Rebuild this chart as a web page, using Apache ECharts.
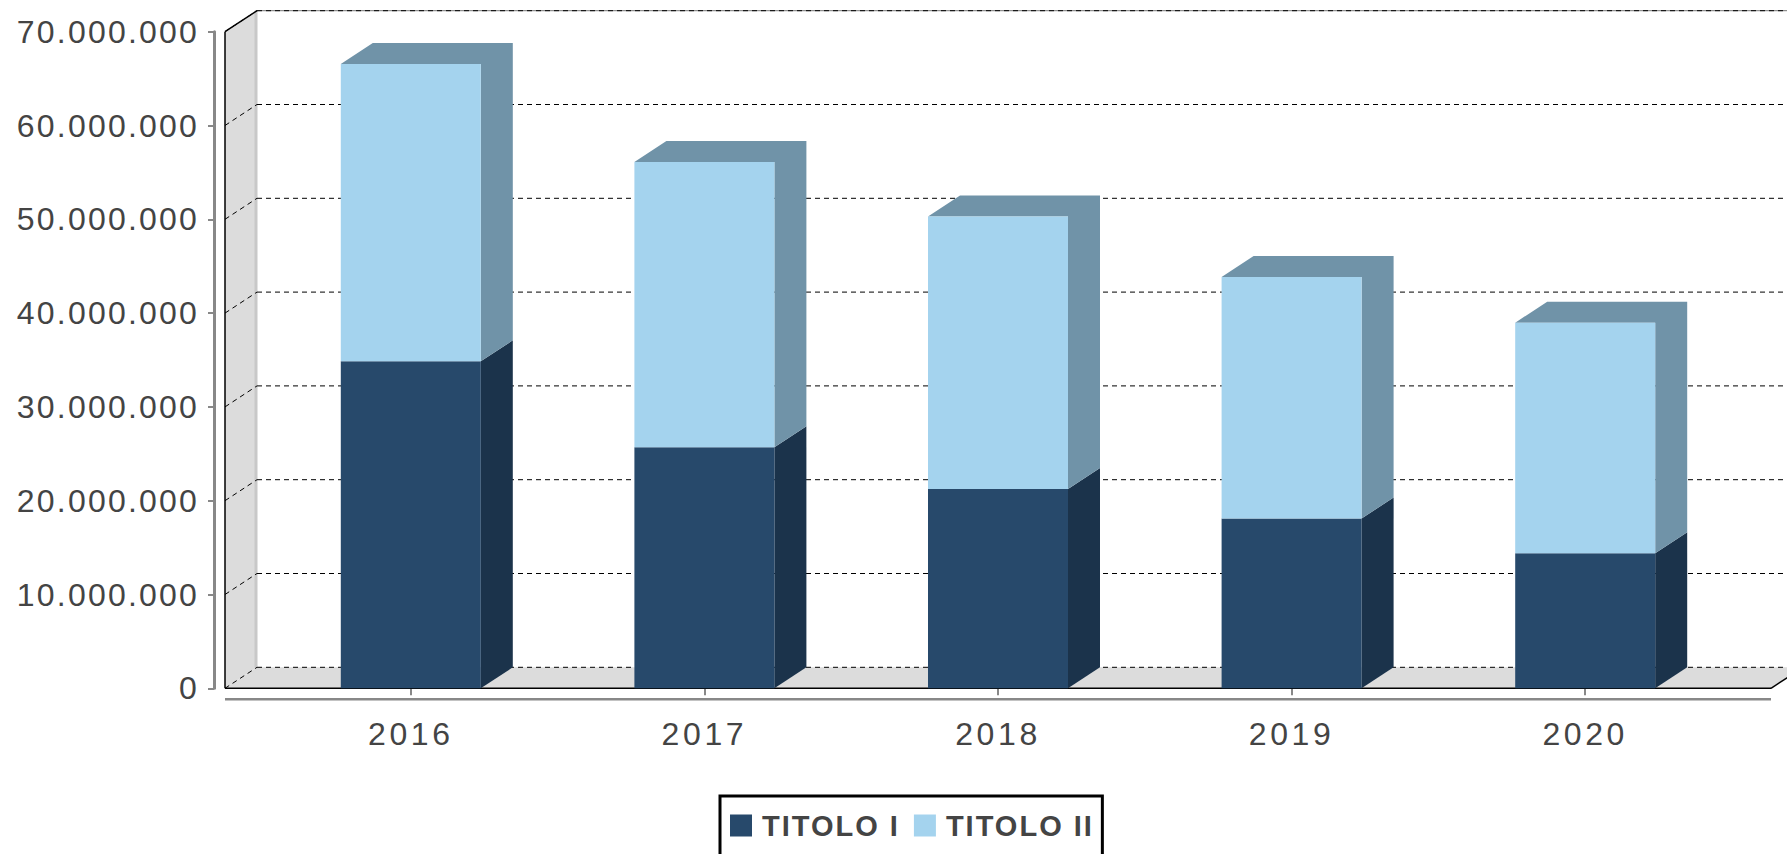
<!DOCTYPE html>
<html><head><meta charset="utf-8">
<style>html,body{margin:0;padding:0;background:#fff;overflow:hidden}#c{width:1787px;height:854px}</style>
<script src="https://cdn.jsdelivr.net/npm/echarts@6/dist/echarts.min.js"></script>
</head><body><div id="c"></div>
<script>
const categories = ['2016','2017','2018','2019','2020'];
const titoloI  = [34860000,25700000,21260000,18100000,14400000];
const titoloII = [31700000,30400000,29050000,25750000,24580000];
const yTicks = [0,10000000,20000000,30000000,40000000,50000000,60000000,70000000];
const DX = 32, DY = 21;
const dots = v => String(v).replace(/\B(?=(\d{3})+$)/g,'.');
const chart = echarts.init(document.getElementById('c'), null, {renderer:'svg'});

function decor(params, api){
  const cs = params.coordSys;
  const fl = cs.x - 39, bl = fl + DX, fr = cs.x + cs.width + 39, br = fr + DX;
  const y0 = api.coord([0,0])[1], yT = api.coord([0,70000000])[1];
  const dash = {stroke:'#000',lineWidth:1,lineDash:[5,4],fill:null};
  const kids = [
    {type:'polygon',shape:{points:[[fl,yT],[bl,yT-DY],[bl,y0-DY],[fl,y0]]},style:{fill:'#dcdcdc'}},
    {type:'polygon',shape:{points:[[fl,y0],[bl,y0-DY],[br,y0-DY],[fr,y0]]},style:{fill:'#dcdcdc'}},
    {type:'line',shape:{x1:bl-1,y1:yT-DY,x2:bl-1,y2:y0-DY},style:{stroke:'#c8c8c8',lineWidth:3}},
    {type:'line',shape:{x1:bl,y1:yT-DY,x2:br,y2:yT-DY},style:{stroke:'#777',lineWidth:1}}
  ];
  yTicks.forEach(v=>{
    const y = api.coord([0,v])[1];
    kids.push({type:'line',shape:{x1:fl,y1:y,x2:bl,y2:y-DY},style:dash});
    kids.push({type:'line',shape:{x1:bl,y1:y-DY,x2:br,y2:y-DY},style:dash});
  });
  kids.push({type:'line',shape:{x1:fl,y1:yT,x2:fl,y2:y0},style:{stroke:'#000',lineWidth:1.5}});
  kids.push({type:'line',shape:{x1:fl,y1:yT,x2:bl,y2:yT-DY},style:{stroke:'#000',lineWidth:1.5}});
  kids.push({type:'line',shape:{x1:fl,y1:y0,x2:fr,y2:y0},style:{stroke:'#000',lineWidth:1.5}});
  kids.push({type:'line',shape:{x1:fr,y1:y0,x2:br,y2:y0-DY},style:{stroke:'#000',lineWidth:1.5}});
  kids.push({type:'line',shape:{x1:fl,y1:y0+11,x2:fr,y2:y0+11},style:{stroke:'#888',lineWidth:2.5}});
  return {type:'group',children:kids};
}
function sides(color, withTop){
  return function(params, api){
    const i = api.value(0), lo = api.value(1), hi = api.value(2);
    const c = api.coord([i,hi]), b = api.coord([i,lo]);
    const xr = c[0] + 70, xl = c[0] - 70;
    const pts = withTop
      ? [[xl,c[1]],[xl+DX,c[1]-DY],[xr+DX,c[1]-DY],[xr+DX,b[1]-DY],[xr,b[1]],[xr,c[1]]]
      : [[xr,c[1]],[xr+DX,c[1]-DY],[xr+DX,b[1]-DY],[xr,b[1]]];
    return {type:'polygon',shape:{points:pts},style:{fill:color}};
  };
}
chart.setOption({
  animation:false,
  backgroundColor:'#fff',
  textStyle:{fontFamily:'"Liberation Sans",Arial,sans-serif'},
  grid:{left:264,right:55,top:31.7,height:656.6},
  legend:{
    data:['TITOLO I','TITOLO II'],left:720,top:796,icon:'rect',itemWidth:22,itemHeight:22,itemGap:30,
    padding:[15,26.5,41,10],borderColor:'#000',borderWidth:3,backgroundColor:'#fff',selectedMode:false,
    textStyle:{fontSize:29,fontWeight:'bold',color:'#444',fontFamily:'"Liberation Sans",Arial,sans-serif',padding:[0,0,0,5]}
  },
  xAxis:{type:'category',data:categories,offset:11,
    axisLine:{show:false},axisTick:{show:true,alignWithLabel:true,length:7,lineStyle:{color:'#888',width:2}},
    axisLabel:{fontSize:32,color:'#444',margin:19,fontFamily:'"Liberation Sans",Arial,sans-serif'}},
  yAxis:{type:'value',min:0,max:70000000,interval:10000000,offset:50,
    axisLine:{show:true,lineStyle:{color:'#888',width:3}},axisTick:{show:true,length:6,lineStyle:{color:'#888',width:2}},
    splitLine:{show:false},
    axisLabel:{fontSize:32,color:'#444',margin:15,formatter:dots,fontFamily:'"Liberation Sans",Arial,sans-serif'}},
  series:[
    {type:'custom',name:'decor',z:1,silent:true,clip:false,data:[[0,0]],renderItem:decor},
    {type:'custom',name:'side I',z:2,silent:true,clip:false,encode:{x:0,y:2},
      data:categories.map((c,i)=>[i,0,titoloI[i]]),renderItem:sides('#1b334b',false)},
    {type:'custom',name:'side II',z:2,silent:true,clip:false,encode:{x:0,y:2},
      data:categories.map((c,i)=>[i,titoloI[i],titoloI[i]+titoloII[i]]),renderItem:sides('#7093a8',true)},
    {type:'bar',name:'TITOLO I',stack:'t',z:3,barWidth:140,itemStyle:{color:'#27496b'},data:titoloI},
    {type:'bar',name:'TITOLO II',stack:'t',z:3,barWidth:140,itemStyle:{color:'#a4d3ee'},data:titoloII}
  ]
});
function spacing(){
  document.querySelectorAll('#c text').forEach(t=>{
    const s=t.textContent.trim();
    let v=null;
    if(/^TITOLO/.test(s)) v='2px';
    else if(/^20\d\d$/.test(s)) v='3.6px';
    else if(/^[\d.]+$/.test(s)) v='2.2px';
    if(v) t.style.letterSpacing=v;
  });
}
spacing();
chart.on('finished',spacing);
</script></body></html>
